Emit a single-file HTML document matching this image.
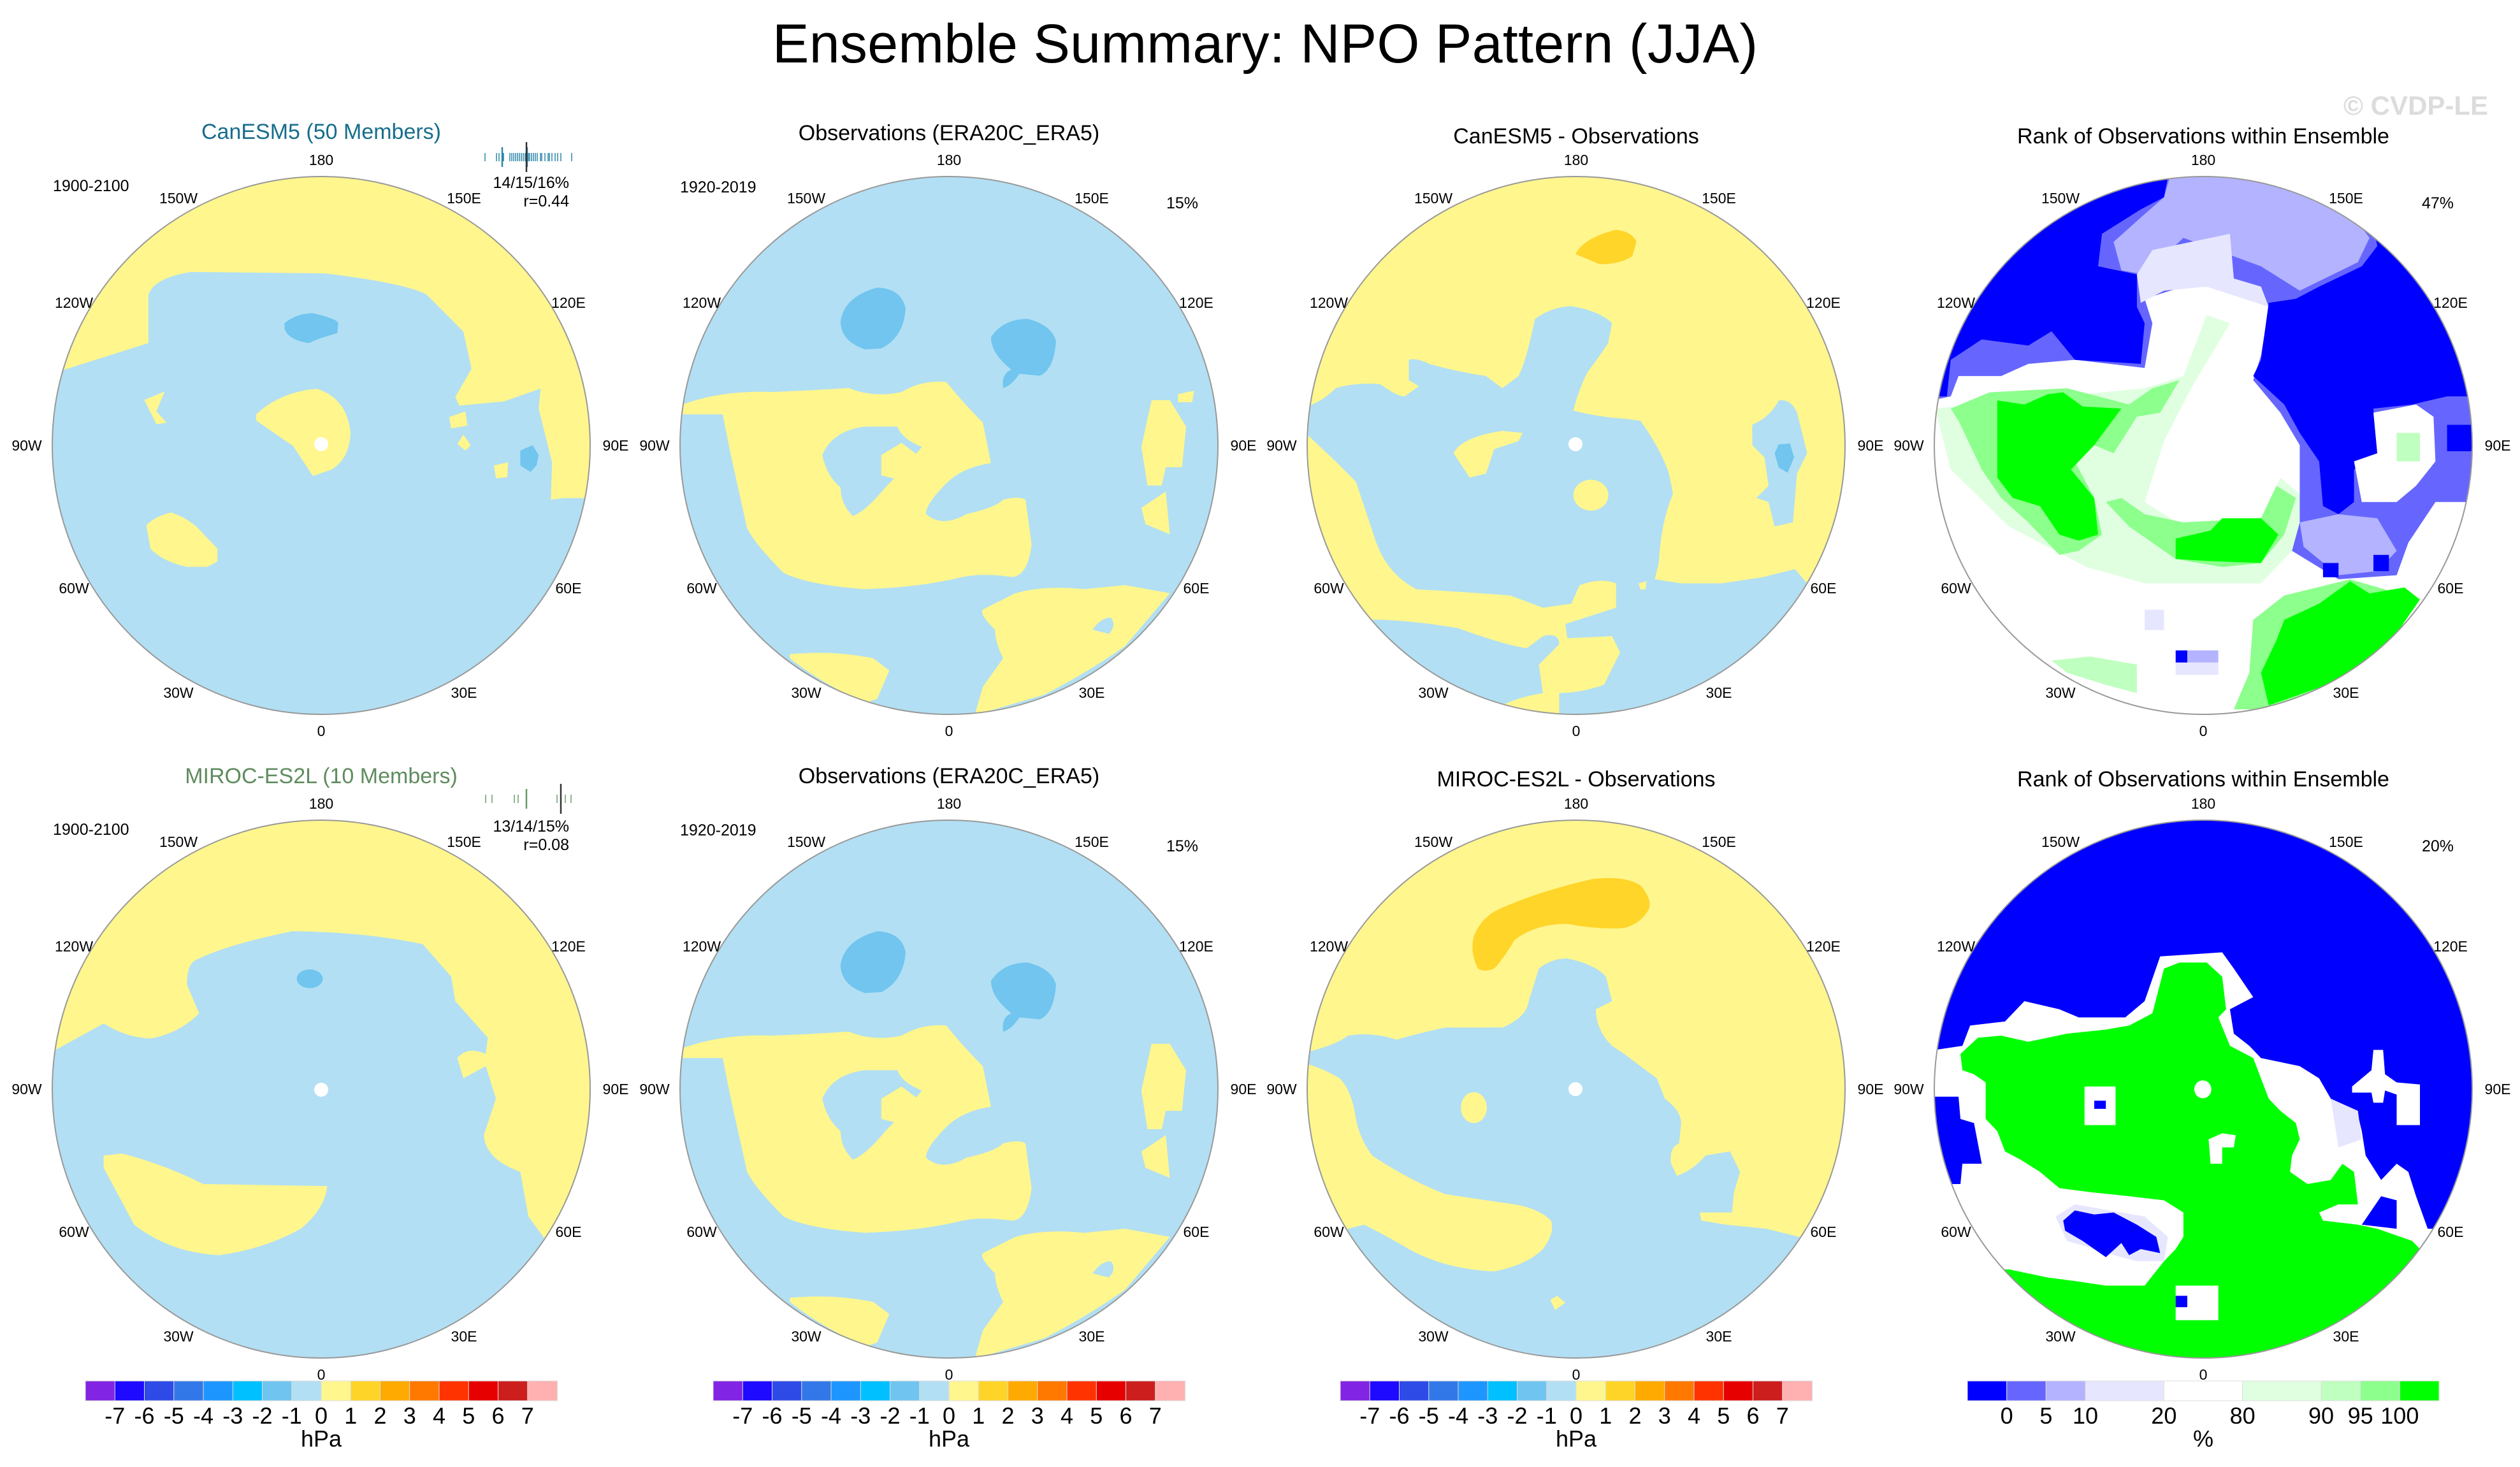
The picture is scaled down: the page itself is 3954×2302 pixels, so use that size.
<!DOCTYPE html>
<html><head><meta charset="utf-8"><style>
html,body{margin:0;padding:0;background:#fff}
svg{display:block}
text{font-family:"Liberation Sans",Arial,sans-serif}
</style></head><body>
<svg id="fig" xmlns="http://www.w3.org/2000/svg" width="3954" height="2302" viewBox="0 0 3954 2302">
<defs>
<clipPath id="c1" clipPathUnits="userSpaceOnUse"><circle cx="504" cy="699" r="422"/></clipPath>
<clipPath id="c2" clipPathUnits="userSpaceOnUse"><circle cx="1489" cy="699" r="422"/></clipPath>
<clipPath id="c3" clipPathUnits="userSpaceOnUse"><circle cx="2473" cy="699" r="422"/></clipPath>
<clipPath id="c4" clipPathUnits="userSpaceOnUse"><circle cx="3457" cy="699" r="422"/></clipPath>
<clipPath id="c5" clipPathUnits="userSpaceOnUse"><circle cx="504" cy="1709" r="422"/></clipPath>
<clipPath id="c6" clipPathUnits="userSpaceOnUse"><circle cx="1489" cy="1709" r="422"/></clipPath>
<clipPath id="c7" clipPathUnits="userSpaceOnUse"><circle cx="2473" cy="1709" r="422"/></clipPath>
<clipPath id="c8" clipPathUnits="userSpaceOnUse"><circle cx="3457" cy="1709" r="422"/></clipPath>
</defs>
<rect width="3954" height="2302" fill="#fff"/>
<text x="1985" y="98" font-size="86" text-anchor="middle" textLength="1546">Ensemble Summary: NPO Pattern (JJA)</text>
<text x="3904" y="180" font-size="42" font-weight="bold" fill="#dcdcdc" text-anchor="end">© CVDP-LE</text>

<!-- Panel 1: CanESM5 -->
<g>
<g clip-path="url(#c1)">
<rect x="60" y="250" width="900" height="900" fill="#b2dff3"/>
<g transform="translate(0,150) scale(0.6378,0.4464)">
<path fill="#fff68e" d="M60,965 L155,965 L365,870 L365,700 Q380,640 470,620 L800,625 Q1000,660 1050,700 L1140,830 L1160,960 L1120,1060 L1130,1090 L1240,1075 L1330,1030 L1325,1100 L1360,1300 L1360,1415 L1500,1415 L1500,0 L60,0 Z"/>
<path fill="#71c5ef" d="M700,800 Q730,765 770,765 Q830,785 832,800 L830,835 Q790,850 760,870 Q710,860 700,820 Z"/>
<path fill="#fff68e" d="M355,1070 L405,1040 L385,1110 L410,1150 L385,1155 Z"/>
<path fill="#fff68e" d="M1105,1130 L1145,1110 L1150,1160 L1110,1170 Z"/>
</g>
<g transform="translate(0,650) scale(0.6378,0.335)">
<path fill="#fff68e" d="M1330,0 L1360,130 L1355,400 L1440,380 L1500,380 L1500,0 Z"/>
<path fill="#71c5ef" d="M1280,170 L1310,145 L1325,190 L1320,240 L1305,270 L1280,240 Z"/>
<path fill="#fff68e" d="M1215,240 L1250,225 L1248,295 L1220,300 Z"/>
<path fill="#fff68e" d="M1125,140 L1140,95 L1158,145 L1145,170 Z"/>
<path fill="#fff68e" d="M360,520 Q380,480 420,460 Q470,490 500,560 L535,630 L535,690 L510,715 L460,715 Q400,690 370,630 Z"/>
</g>
<path fill="#fff68e" d="M402,650 Q440,615 497,610 Q545,625 550,680 Q548,720 520,737 L491,747 L460,700 L402,660 Z"/>
</g>
<circle cx="504" cy="697" r="11" fill="#fff"/>
<circle cx="504" cy="699" r="422" fill="none" stroke="#999" stroke-width="2"/>
</g>

<g>
<g clip-path="url(#c2)">
<rect x="1050" y="250" width="900" height="900" fill="#b2dff3"/>
<g transform="translate(1000,140) scale(0.6378)">
<path fill="#fff68e" d="M100,780 Q200,740 330,745 Q450,740 520,735 Q580,760 650,745 Q700,715 760,720 Q800,770 850,820 L870,920 Q800,930 760,970 Q710,1020 710,1045 Q750,1080 810,1045 Q880,1030 900,1010 Q940,1000 955,1010 L970,1120 Q960,1200 920,1200 Q850,1190 800,1200 Q700,1225 560,1230 Q420,1220 360,1190 Q290,1120 270,1080 L230,900 L210,800 L100,800 Z"/>
<path fill="#b2dff3" d="M455,900 Q480,840 560,830 L640,830 Q650,860 700,880 Q650,940 610,980 Q560,1040 530,1050 Q500,1020 500,980 Q465,950 455,900 Z"/>
<path fill="#fff68e" d="M600,900 L650,870 L690,900 L640,960 L600,950 Z"/>
<path fill="#fff68e" d="M930,1240 Q1000,1220 1100,1230 L1200,1220 L1310,1240 L1200,1370 Q1100,1440 1000,1490 L830,1540 L850,1470 L900,1400 Q880,1360 880,1330 Q840,1290 850,1280 Z"/>
<path fill="#b2dff3" d="M1120,1330 Q1140,1300 1165,1300 Q1180,1320 1160,1340 Z"/>
<path fill="#fff68e" d="M375,1390 Q480,1380 580,1400 L620,1430 L590,1500 L560,1510 Q450,1460 375,1400 Z"/>
<path fill="#fff68e" d="M1265,765 L1310,765 L1350,830 L1340,930 L1300,930 L1290,975 L1255,975 L1240,880 Z"/>
<path fill="#fff68e" d="M1240,1030 L1300,990 L1310,1095 L1250,1070 Z"/>
<path fill="#fff68e" d="M1330,750 L1370,742 L1365,770 L1330,770 Z"/>
<path fill="#71c5ef" d="M500,570 Q510,510 590,488 Q650,490 660,540 Q655,610 600,638 L560,640 Q500,620 500,570 Z"/>
<path fill="#71c5ef" d="M870,610 Q900,565 960,565 Q1020,580 1030,620 Q1025,690 990,705 L940,700 Q920,730 900,735 Q895,700 920,690 Q870,650 870,610 Z"/>
</g>
</g>
<circle cx="1489" cy="699" r="422" fill="none" stroke="#999" stroke-width="2"/>
</g>
<g>
<g clip-path="url(#c6)">
<rect x="1050" y="1260" width="900" height="900" fill="#b2dff3"/>
<g transform="translate(1000,1150) scale(0.6378)">
<path fill="#fff68e" d="M100,780 Q200,740 330,745 Q450,740 520,735 Q580,760 650,745 Q700,715 760,720 Q800,770 850,820 L870,920 Q800,930 760,970 Q710,1020 710,1045 Q750,1080 810,1045 Q880,1030 900,1010 Q940,1000 955,1010 L970,1120 Q960,1200 920,1200 Q850,1190 800,1200 Q700,1225 560,1230 Q420,1220 360,1190 Q290,1120 270,1080 L230,900 L210,800 L100,800 Z"/>
<path fill="#b2dff3" d="M455,900 Q480,840 560,830 L640,830 Q650,860 700,880 Q650,940 610,980 Q560,1040 530,1050 Q500,1020 500,980 Q465,950 455,900 Z"/>
<path fill="#fff68e" d="M600,900 L650,870 L690,900 L640,960 L600,950 Z"/>
<path fill="#fff68e" d="M930,1240 Q1000,1220 1100,1230 L1200,1220 L1310,1240 L1200,1370 Q1100,1440 1000,1490 L830,1540 L850,1470 L900,1400 Q880,1360 880,1330 Q840,1290 850,1280 Z"/>
<path fill="#b2dff3" d="M1120,1330 Q1140,1300 1165,1300 Q1180,1320 1160,1340 Z"/>
<path fill="#fff68e" d="M375,1390 Q480,1380 580,1400 L620,1430 L590,1500 L560,1510 Q450,1460 375,1400 Z"/>
<path fill="#fff68e" d="M1265,765 L1310,765 L1350,830 L1340,930 L1300,930 L1290,975 L1255,975 L1240,880 Z"/>
<path fill="#fff68e" d="M1240,1030 L1300,990 L1310,1095 L1250,1070 Z"/>
<path fill="#71c5ef" d="M500,570 Q510,510 590,488 Q650,490 660,540 Q655,610 600,638 L560,640 Q500,620 500,570 Z"/>
<path fill="#71c5ef" d="M870,610 Q900,565 960,565 Q1020,580 1030,620 Q1025,690 990,705 L940,700 Q920,730 900,735 Q895,700 920,690 Q870,650 870,610 Z"/>
</g>
</g>
<circle cx="1489" cy="1709" r="422" fill="none" stroke="#999" stroke-width="2"/>
</g>

<!-- Panel 3: CanESM5 - Obs -->
<g>
<g clip-path="url(#c3)">
<rect x="2040" y="250" width="900" height="900" fill="#fff68e"/>
<g transform="translate(2000,150) scale(0.6378)">
<path fill="#b2dff3" d="M60,770 Q110,760 150,720 Q200,705 260,710 Q300,740 320,740 L355,715 L330,700 L330,650 Q350,645 380,660 Q450,680 520,690 L560,720 L600,690 Q620,650 640,550 Q680,520 730,518 Q800,530 830,560 L820,610 Q800,640 770,680 L760,700 Q740,750 735,775 Q790,790 860,795 L900,800 Q950,870 970,930 L980,980 Q950,1050 945,1150 L935,1190 L1000,1200 L1100,1200 L1200,1185 L1280,1165 L1310,1200 L1400,1200 L1400,1600 L700,1600 L700,1470 Q750,1470 810,1450 L850,1370 L830,1330 L720,1335 L715,1300 L840,1260 L840,1200 Q800,1185 750,1205 L730,1250 L660,1260 L580,1230 Q450,1220 350,1215 Q280,1180 250,1100 L200,950 L150,900 L60,815 Z"/>
<path fill="#b2dff3" d="M200,1290 Q300,1285 450,1310 Q560,1350 620,1360 L660,1330 Q700,1320 700,1350 L650,1400 L660,1470 Q600,1480 560,1500 L300,1600 L100,1400 Z"/>
<path fill="#fff68e" d="M440,880 Q460,840 560,825 L610,830 L600,850 L540,870 L520,930 L480,940 Z"/>
<ellipse cx="778" cy="983" rx="43" ry="38" fill="#fff68e"/>
<path fill="#fff68e" d="M895,1200 L915,1195 L912,1215 L900,1215 Z"/>
<path fill="#b2dff3" d="M1175,810 Q1220,790 1240,750 Q1270,745 1285,780 L1310,880 L1285,930 L1275,1050 L1230,1060 L1215,1000 L1185,990 L1215,960 L1205,890 L1175,860 Z"/>
<path fill="#71c5ef" d="M1230,880 L1240,858 L1268,856 L1278,890 L1262,928 L1240,915 Z"/>
<path fill="#ffd52a" d="M740,390 Q760,350 840,330 Q880,335 890,360 L880,395 Q850,415 800,415 Z"/>
</g>
</g>
<circle cx="2472" cy="697" r="11" fill="#fff"/>
<circle cx="2473" cy="699" r="422" fill="none" stroke="#999" stroke-width="2"/>
</g>

<!-- Panel 4: Rank top -->
<g>
<g clip-path="url(#c4)">
<rect x="3020" y="250" width="900" height="900" fill="#fff"/>
<g transform="translate(3000,150) scale(0.6084,0.6378)">
<path fill="#e0ffe0" d="M60,770 L600,720 L700,690 L760,540 L820,560 L720,720 L650,850 L600,1000 L700,1060 L900,1040 L950,940 L1000,980 L1000,1100 L900,1200 L600,1200 L450,1160 L250,1060 L100,920 Z"/>
<path fill="#8cff8c" d="M100,770 L200,730 L400,720 L560,760 L620,720 L690,700 L640,780 L580,790 L520,880 L470,860 L420,900 L470,990 L490,1080 L430,1120 L380,1130 L300,1050 L230,990 L180,920 L120,800 Z"/>
<path fill="#00ff00" d="M220,750 L290,760 L350,735 L390,730 L440,765 L540,770 L470,860 L410,920 L470,990 L480,1080 L430,1095 L380,1080 L330,1010 L260,990 L220,940 Z"/>
<path fill="#8cff8c" d="M500,1000 L560,1060 L680,1140 L800,1160 L900,1150 L960,1080 L990,990 L940,960 L900,1040 L700,1050 L600,1030 L540,990 Z"/>
<path fill="#00ff00" d="M680,1090 L770,1070 L800,1040 L900,1040 L945,1080 L900,1150 L760,1145 L680,1140 Z"/>
<path fill="#8cff8c" d="M880,1290 L960,1230 L1130,1190 L1310,1240 L1100,1450 L900,1510 L830,1510 L870,1420 Z"/>
<path fill="#00ff00" d="M960,1290 L1050,1250 L1130,1195 L1180,1225 L1270,1210 L1310,1240 L1230,1350 L1100,1440 L920,1500 L900,1420 L940,1340 Z"/>
<path fill="#bfffbf" d="M360,1390 L460,1380 L580,1400 L580,1470 L500,1450 L400,1420 Z"/>
<path fill="#6666ff" d="M0,760 L100,740 L120,690 L230,690 L300,660 L420,650 L600,670 L620,560 L600,500 L700,470 L900,470 L920,520 L900,640 L880,700 L950,780 L1000,860 L1000,1050 L980,1120 L1100,1190 L1250,1180 L1280,1100 L1350,1000 L1440,1000 L1500,900 L1500,150 L0,150 Z"/>
<path fill="#b3b3ff" d="M650,250 L590,300 L520,360 L540,430 L600,440 L700,350 L900,420 L1000,480 L1150,410 L1180,350 L1100,250 L1000,150 L680,150 Z"/>
<path fill="#b3b3ff" d="M1000,1050 L1100,1030 L1200,1040 L1250,1120 L1200,1170 L1100,1180 L1010,1110 Z"/>
<path fill="#e6e6ff" d="M580,440 L620,380 L820,340 L830,450 L900,470 L920,520 L760,470 L650,480 L590,510 Z"/>
<path fill="#0000ff" d="M0,740 L90,740 L100,650 L180,600 L300,615 L360,580 L420,650 L590,660 L600,560 L580,520 L580,440 L480,420 L490,340 L590,280 L650,250 L670,150 L0,150 Z"/>
<path fill="#0000ff" d="M1150,150 L1200,370 L1160,420 L1050,470 L990,500 L920,510 L900,650 L880,690 L960,760 L1000,830 L1050,900 L1060,1010 L1100,1030 L1140,1000 L1140,920 L1200,880 L1190,770 L1290,760 L1380,740 L1440,740 L1500,700 L1500,150 Z"/>
<path fill="#fff" d="M1190,780 L1300,760 L1345,790 L1350,900 L1300,960 L1250,1000 L1160,1000 L1140,900 L1200,880 Z"/>
<path fill="#bfffbf" d="M1250,830 L1310,830 L1310,900 L1250,900 Z"/>
<rect x="1380" y="810" width="70" height="65" fill="#0000ff"/>
<rect x="1060" y="1150" width="40" height="35" fill="#0000ff"/>
<rect x="1190" y="1130" width="40" height="40" fill="#0000ff"/>
<rect x="680" y="1365" width="30" height="30" fill="#0000ff"/>
<rect x="710" y="1365" width="80" height="30" fill="#b3b3ff"/>
<rect x="680" y="1395" width="110" height="30" fill="#e6e6ff"/>
<rect x="600" y="1265" width="50" height="50" fill="#e6e6ff"/>
</g>
</g>
<circle cx="3457" cy="699" r="422" fill="none" stroke="#999" stroke-width="2"/>
</g>

<!-- Panel 5: MIROC -->
<g>
<g clip-path="url(#c5)">
<rect x="60" y="1260" width="900" height="900" fill="#b2dff3"/>
<g transform="translate(0,1150) scale(0.6378)">
<path fill="#fff68e" d="M100,800 L255,715 Q310,750 370,752 Q440,740 490,690 L460,620 Q460,570 480,560 Q560,520 720,488 Q900,490 1040,520 L1110,600 L1120,660 L1200,750 L1195,790 Q1150,770 1125,800 L1140,850 L1195,820 L1220,900 L1190,990 Q1195,1050 1280,1080 L1300,1190 L1340,1245 L1600,1245 L1600,0 L0,0 L0,800 Z"/>
<path fill="#fff68e" d="M255,1040 L300,1035 Q400,1060 500,1110 L805,1115 Q800,1170 740,1220 Q650,1270 540,1285 Q420,1280 330,1210 L255,1070 Z"/>
<ellipse cx="762" cy="605" rx="32" ry="23" fill="#71c5ef"/>
</g>
</g>
<circle cx="504" cy="1710" r="11" fill="#fff"/>
<circle cx="504" cy="1709" r="422" fill="none" stroke="#999" stroke-width="2"/>
</g>

<!-- Panel 7: MIROC - Obs -->
<g>
<g clip-path="url(#c7)">
<rect x="2040" y="1260" width="900" height="900" fill="#fff68e"/>
<g transform="translate(2000,1150) scale(0.6378)">
<path fill="#b2dff3" d="M60,790 Q150,770 180,745 Q240,735 300,755 Q350,740 420,725 L560,725 Q620,700 625,660 L650,580 Q680,555 720,555 Q790,570 815,600 L830,660 L790,680 Q790,730 830,770 L860,790 Q900,820 940,850 L960,900 Q1000,930 1000,960 L995,1010 Q970,1020 975,1060 L990,1090 Q1030,1075 1060,1040 L1120,1030 L1145,1080 L1130,1130 L1125,1180 L1045,1180 L1050,1200 L1110,1210 L1210,1220 L1290,1240 L1500,1240 L1500,1700 L300,1700 L100,1300 L180,1220 L220,1210 Q280,1240 330,1270 Q420,1320 540,1325 Q620,1310 660,1270 Q690,1230 680,1200 Q650,1170 590,1160 Q520,1150 420,1135 Q330,1100 240,1040 Q210,1000 200,950 Q190,880 160,850 Q110,820 60,810 Z"/>
<ellipse cx="490" cy="922" rx="32" ry="38" fill="#fff68e"/>
<path fill="#fff68e" d="M678,1395 L695,1385 L715,1402 L690,1420 Z"/>
<path fill="#ffd52a" d="M500,580 Q480,540 490,500 Q510,450 560,430 Q650,390 780,360 Q860,350 900,375 Q930,410 920,435 Q900,470 860,480 Q800,485 720,470 Q640,470 590,510 Q560,560 540,580 Q515,590 500,580 Z"/>
</g>
</g>
<circle cx="2472" cy="1709" r="11" fill="#fff"/>
<circle cx="2473" cy="1709" r="422" fill="none" stroke="#999" stroke-width="2"/>
</g>

<!-- Panel 8: Rank bottom -->
<g>
<g clip-path="url(#c8)">
<rect x="3020" y="1260" width="900" height="900" fill="#fff"/>
<g transform="translate(3000,1150) scale(0.6084,0.6378)">
<path fill="#0000ff" d="M0,780 L60,780 L130,770 L150,720 L240,710 L290,660 L380,680 L430,700 L550,700 L600,660 L640,550 L800,540 L830,580 L880,650 L820,680 L830,740 L870,770 L900,800 L1000,820 L1050,850 L1080,900 L1100,940 L1150,940 L1160,980 L1170,1040 L1210,1100 L1250,1060 L1280,1080 L1300,1140 L1330,1220 L1600,1220 L1600,0 L0,0 Z"/>
<path fill="#e6e6ff" d="M1080,900 L1150,930 L1160,1000 L1100,1020 Z"/>
<path fill="#fff" d="M1135,870 L1185,830 L1190,780 L1215,780 L1220,840 L1250,860 L1310,865 L1310,965 L1250,965 L1250,890 L1220,880 L1215,910 L1190,910 L1185,885 L1135,885 Z"/>
<path fill="#0000ff" d="M40,895 L120,895 L125,950 L160,960 L170,1010 L180,1060 L130,1060 L125,1110 L100,1110 L40,1000 Z"/>
<path fill="#0000ff" d="M1160,1210 L1210,1140 L1250,1150 L1250,1220 Z"/>
<path fill="#00ff00" d="M125,790 L170,750 L230,745 L300,760 L400,740 L500,730 L560,720 L620,690 L650,580 L690,565 L760,565 L800,600 L810,680 L790,700 L820,770 L880,800 L900,850 L920,900 L950,930 L990,960 L1000,1000 L980,1040 L975,1080 L1020,1110 L1080,1100 L1110,1060 L1140,1080 L1150,1160 L1100,1160 L1050,1180 L1060,1200 L1150,1210 L1200,1220 L1290,1250 L1310,1270 L1600,1270 L1600,1700 L0,1700 L0,1320 L250,1320 L300,1330 L350,1340 L430,1350 L500,1360 L600,1360 L650,1300 L680,1270 L700,1240 L700,1180 L650,1150 L560,1140 L460,1130 L380,1120 L330,1080 L280,1050 L240,1030 L220,980 L190,950 L190,860 L160,840 L130,830 Z"/>
<path fill="#e6e6ff" d="M370,1190 L420,1160 L600,1190 L660,1240 L650,1300 L580,1300 L540,1290 L400,1250 Z"/>
<path fill="#0000ff" d="M390,1200 L420,1175 L470,1185 L520,1180 L580,1210 L630,1240 L640,1280 L590,1270 L560,1285 L540,1255 L500,1290 L470,1270 L440,1250 L395,1225 Z"/>
<rect x="445" y="870" width="80" height="95" fill="#fff"/>
<rect x="470" y="905" width="30" height="20" fill="#0000ff"/>
<circle cx="750" cy="877" r="22" fill="#fff"/>
<path fill="#fff" d="M765,1000 L800,985 L835,990 L830,1020 L800,1020 L800,1060 L770,1060 Z"/>
<rect x="680" y="1360" width="110" height="85" fill="#fff"/>
<rect x="680" y="1385" width="30" height="28" fill="#0000ff"/>
</g>
</g>
<circle cx="3457" cy="1709" r="422" fill="none" stroke="#999" stroke-width="2"/>
</g>

<!-- Panel texts -->
<g font-size="34">
<text x="504" y="218" text-anchor="middle" fill="#176d8c">CanESM5 (50 Members)</text>
<text x="1489" y="220" text-anchor="middle">Observations (ERA20C_ERA5)</text>
<text x="2473" y="225" text-anchor="middle">CanESM5 - Observations</text>
<text x="3457" y="225" text-anchor="middle">Rank of Observations within Ensemble</text>
<text x="504" y="1229" text-anchor="middle" fill="#5f8c5f">MIROC-ES2L (10 Members)</text>
<text x="1489" y="1229" text-anchor="middle">Observations (ERA20C_ERA5)</text>
<text x="2473" y="1234" text-anchor="middle">MIROC-ES2L - Observations</text>
<text x="3457" y="1234" text-anchor="middle">Rank of Observations within Ensemble</text>
</g>
<g font-size="25">
<text x="83" y="300">1900-2100</text>
<text x="893" y="295" text-anchor="end">14/15/16%</text>
<text x="893" y="324" text-anchor="end">r=0.44</text>
<text x="1067" y="302">1920-2019</text>
<text x="1880" y="327" text-anchor="end">15%</text>
<text x="3850" y="327" text-anchor="end">47%</text>
<text x="83" y="1310">1900-2100</text>
<text x="893" y="1305" text-anchor="end">13/14/15%</text>
<text x="893" y="1334" text-anchor="end">r=0.08</text>
<text x="1067" y="1311">1920-2019</text>
<text x="1880" y="1336" text-anchor="end">15%</text>
<text x="3850" y="1336" text-anchor="end">20%</text>
</g>
<g id="members"></g>
<g id="lonlabels" font-size="23"></g>
<g id="colorbars"></g>
</svg>
<script>
var NS = "http://www.w3.org/2000/svg";
var hpaLevels = ["-7","-6","-5","-4","-3","-2","-1","0","1","2","3","4","5","6","7"];
var hpaColors = ["#8224e3","#1e0aff","#2e4be8","#3378e8","#1e96ff","#00c0ff","#70c5f0","#b2dff3","#fff68e","#ffd428","#ffaa00","#ff7800","#ff3300","#e60000","#cd1e1e","#ffb0b0"];
var rankLevels = [0,5,10,20,80,90,95,100];
var rankColors = ["#0000ff","#6666ff","#b3b3ff","#e6e6ff","#ffffff","#e0ffe0","#bfffbf","#8cff8c","#00ff00"];
var rankBoxUnits = [1,1,1,2,2,2,1,1,1];
var lonNames = ["180","150W","120W","90W","60W","30W","0","30E","60E","90E","120E","150E"];
var lonDeg = [180,-150,-120,-90,-60,-30,0,30,60,90,120,150];
var canMembers = [761,779,783,788,789,790,800,803,806,809,812,815,818,821,824,827,829,831,834,837,840,843,848,850,855,860,862,866,871,875,880,897];
var canTall = [788,827,861];
var mirMembers = [762,772,807,813,826,874,887,896];
var mirTall = [826];

var panelCX = [504,1489,2473,3457];
var panelCY = [699,1709];
var lonG = document.getElementById('lonlabels');
panelCY.forEach(function(cy){
  panelCX.forEach(function(cx){
    lonDeg.forEach(function(d,i){
      var a = d*Math.PI/180;
      var R = (d===90||d===-90)?462:448;
      var t = document.createElementNS(NS,'text');
      t.setAttribute('x', cx + R*Math.sin(a));
      t.setAttribute('y', cy + R*Math.cos(a) + 8);
      t.setAttribute('text-anchor','middle');
      
      
      t.textContent = lonNames[i];
      lonG.appendChild(t);
    });
  });
});

var memG = document.getElementById('members');
function strip(xs, tall, y0, col, blackX){
  xs.forEach(function(x){
    var isT = tall.indexOf(x)>=0;
    var l = document.createElementNS(NS,'line');
    l.setAttribute('x1',x); l.setAttribute('x2',x);
    l.setAttribute('y1', isT? y0-9 : y0); l.setAttribute('y2', isT? y0+22 : y0+13);
    l.setAttribute('stroke', col); l.setAttribute('stroke-width', isT?2.5:1.5);
    
    
    memG.appendChild(l);
  });
  var b = document.createElementNS(NS,'line');
  b.setAttribute('x1',blackX); b.setAttribute('x2',blackX);
  b.setAttribute('y1', y0-17); b.setAttribute('y2', y0+30);
  b.setAttribute('stroke','#333'); b.setAttribute('stroke-width',2.5);
  
  
  memG.appendChild(b);
}
strip(canMembers, canTall, 240, "#2a86a8", 826);
strip(mirMembers, mirTall, 1247, "#6a9a6a", 880);

var cbG = document.getElementById('colorbars');
function hpaBar(cx){
  var x0 = cx-370, w = 740/hpaColors.length;
  hpaColors.forEach(function(c,i){
    var r = document.createElementNS(NS,'rect');
    r.setAttribute('x', x0+i*w); r.setAttribute('y', 2167);
    r.setAttribute('width', w+0.5); r.setAttribute('height', 31);
    r.setAttribute('fill', c); r.setAttribute('stroke', '#ddd'); r.setAttribute('stroke-width', 1);
    
    
    cbG.appendChild(r);
  });
  hpaLevels.forEach(function(s,i){
    var t = document.createElementNS(NS,'text');
    t.setAttribute('x', x0+(i+1)*w); t.setAttribute('y', 2234);
    t.setAttribute('font-size', 36); t.setAttribute('text-anchor','middle');
    
    
    t.textContent = s;
    cbG.appendChild(t);
  });
  var u = document.createElementNS(NS,'text');
  u.setAttribute('x', cx); u.setAttribute('y', 2270);
  u.setAttribute('font-size', 36); u.setAttribute('text-anchor','middle');
  
  
  u.textContent = 'hPa';
  cbG.appendChild(u);
}
hpaBar(504); hpaBar(1489); hpaBar(2473);
(function(){
  var cx = 3457, x0 = cx-370, total = 0;
  rankBoxUnits.forEach(function(u){ total += u; });
  var uw = 740/total, x = x0, edges = [];
  rankColors.forEach(function(c,i){
    var w = rankBoxUnits[i]*uw;
    var r = document.createElementNS(NS,'rect');
    r.setAttribute('x', x); r.setAttribute('y', 2167);
    r.setAttribute('width', w); r.setAttribute('height', 31);
    r.setAttribute('fill', c); r.setAttribute('stroke', '#ddd'); r.setAttribute('stroke-width', 1);
    
    
    cbG.appendChild(r);
    x += w; edges.push(x);
  });
  rankLevels.forEach(function(v,i){
    var t = document.createElementNS(NS,'text');
    t.setAttribute('x', edges[i]); t.setAttribute('y', 2234);
    t.setAttribute('font-size', 36); t.setAttribute('text-anchor','middle');
    
    
    t.textContent = v;
    cbG.appendChild(t);
  });
  var u = document.createElementNS(NS,'text');
  u.setAttribute('x', cx); u.setAttribute('y', 2270);
  u.setAttribute('font-size', 36); u.setAttribute('text-anchor','middle');
  
  
  u.textContent = '%';
  cbG.appendChild(u);
})();
</script>
</body></html>
